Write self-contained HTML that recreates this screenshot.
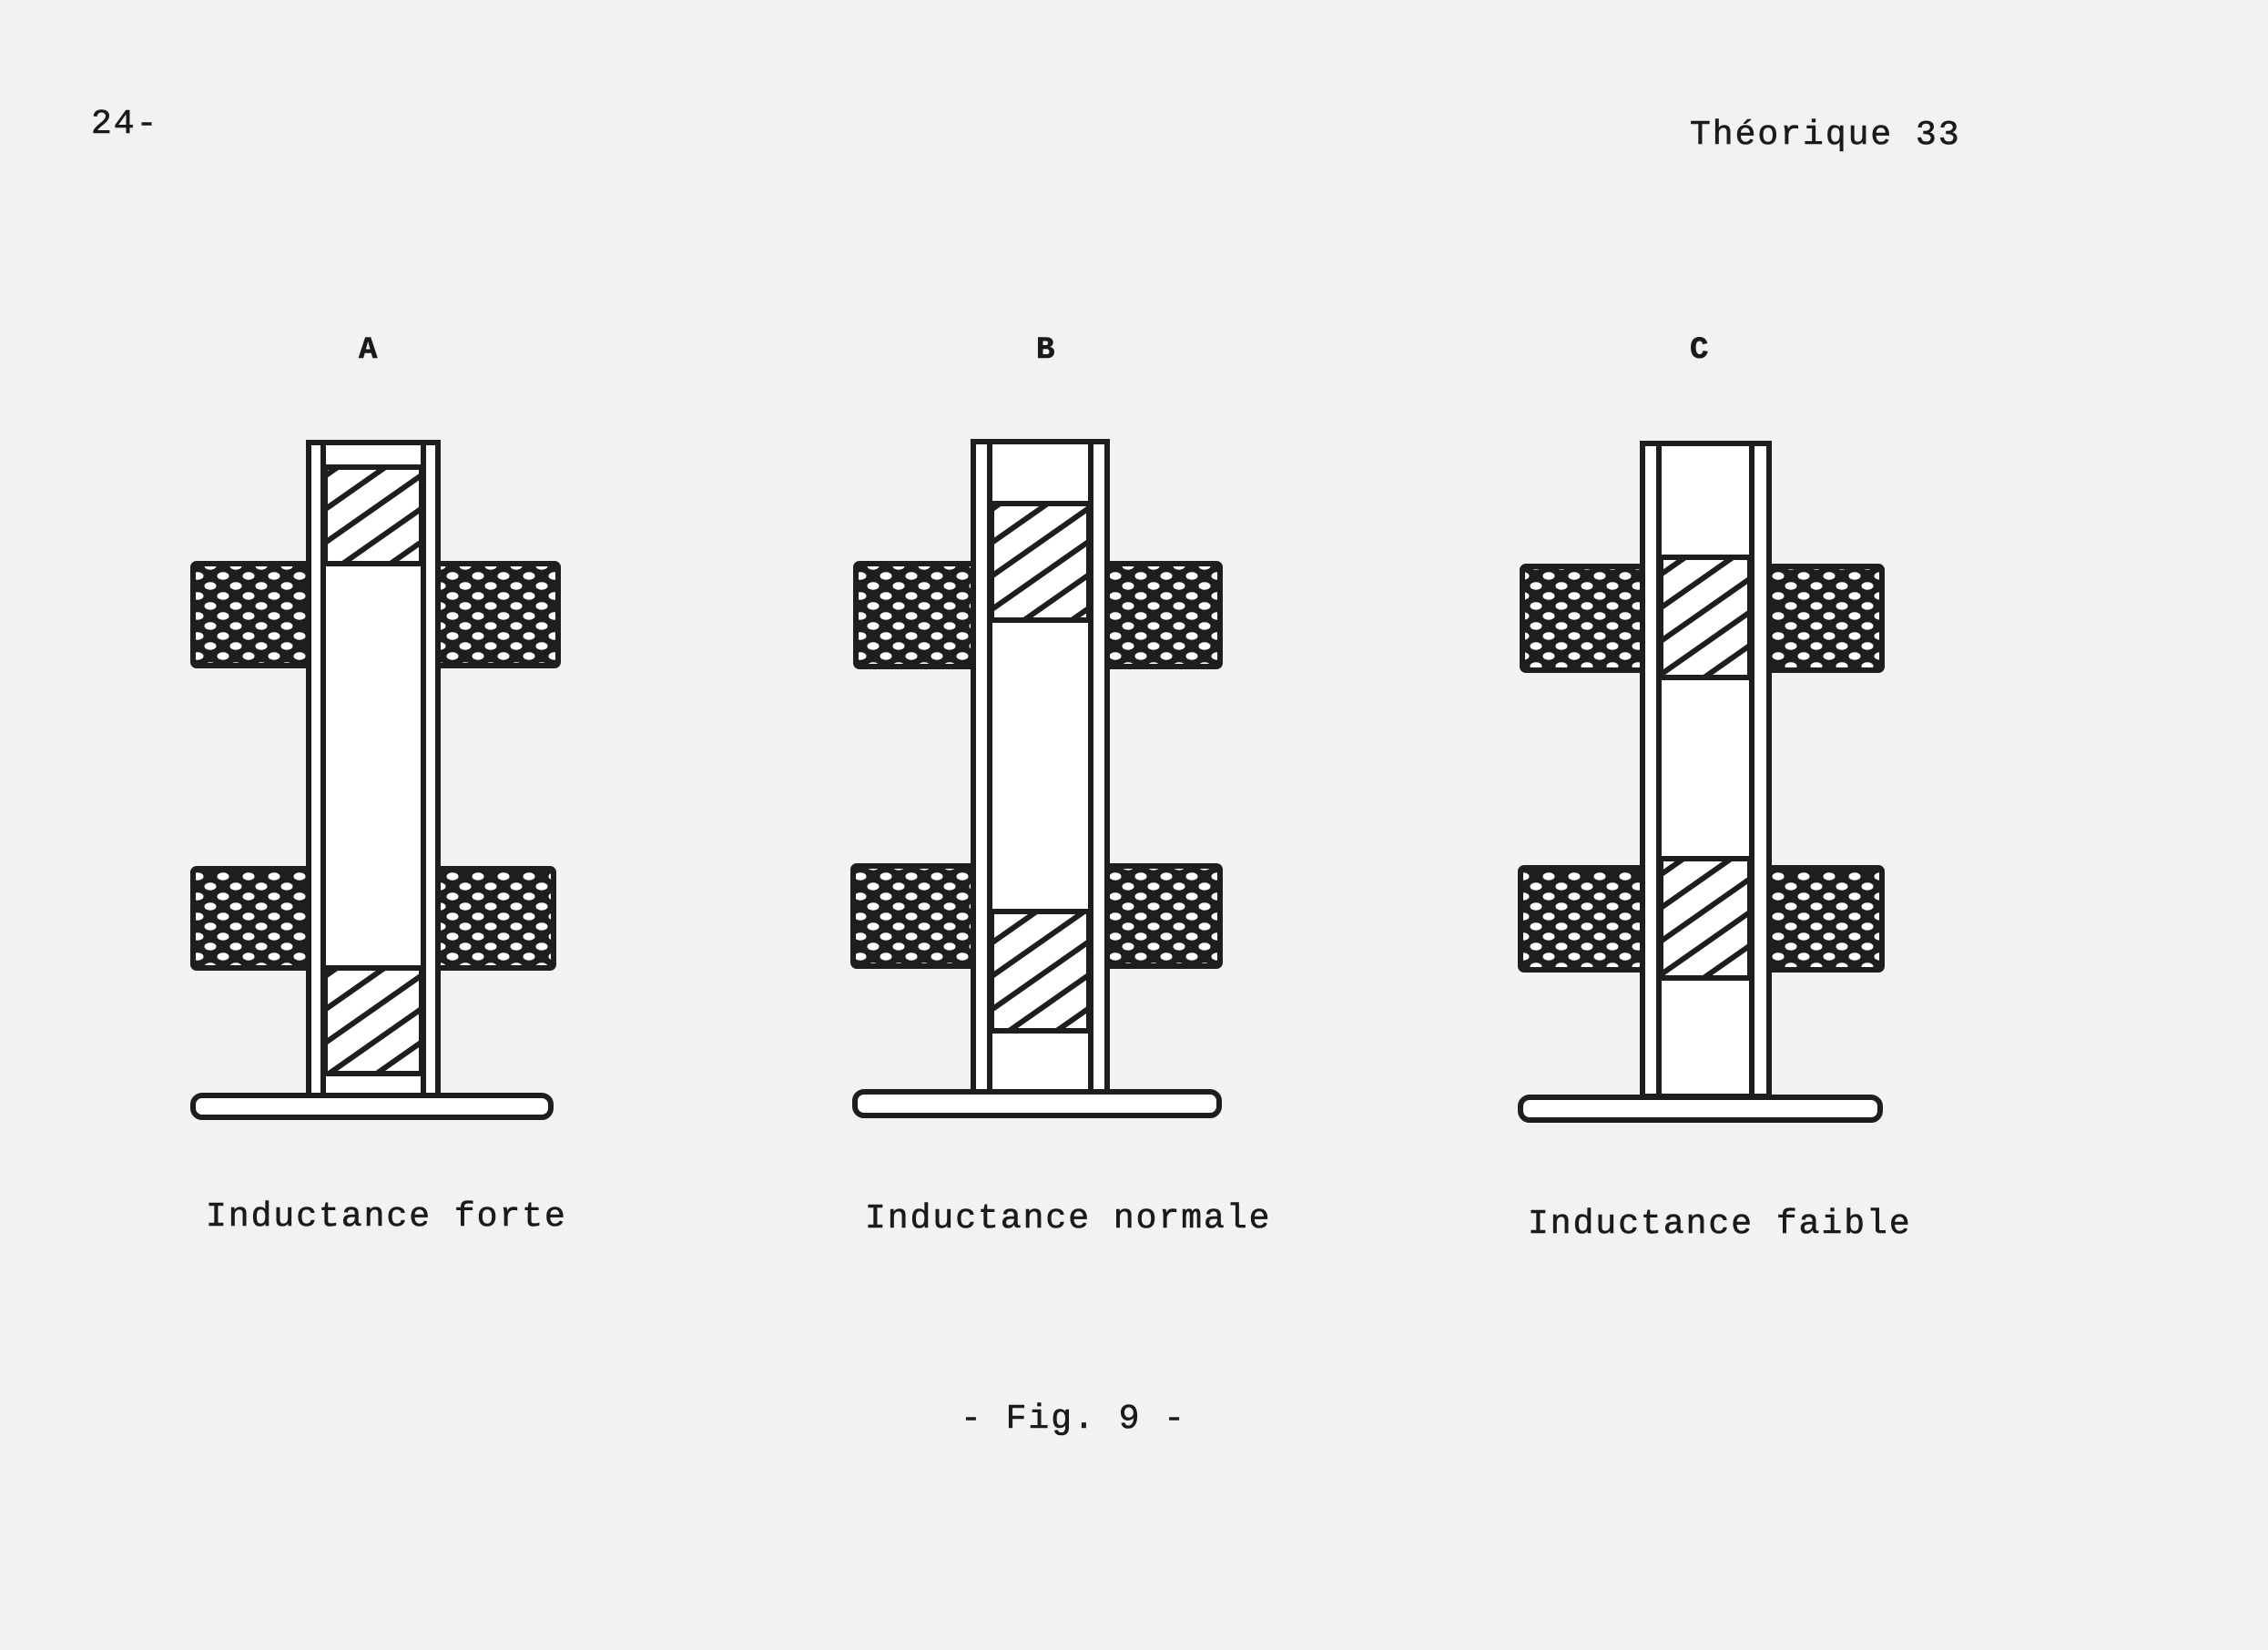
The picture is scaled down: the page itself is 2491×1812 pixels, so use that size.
<!DOCTYPE html>
<html><head><meta charset="utf-8"><style>
html,body{margin:0;padding:0;background:#f2f2f0;}
body{width:2491px;height:1812px;position:relative;overflow:hidden;}
.t{position:absolute;font-family:"Liberation Mono",monospace;font-size:38px;letter-spacing:2px;color:#1a1a1a;white-space:nowrap;line-height:1;-webkit-text-stroke:0.6px #1a1a1a;}
</style></head><body>
<svg width="2491" height="1812" style="position:absolute;left:0;top:0">
<defs>
<pattern id="dots" width="28" height="22" patternUnits="userSpaceOnUse">
<rect width="28" height="22" fill="#1e1e1e"/>
<ellipse cx="7" cy="5.5" rx="6.5" ry="4.2" fill="#fff"/>
<ellipse cx="21" cy="16.5" rx="6.5" ry="4.2" fill="#fff"/>
</pattern>
<pattern id="hatch" width="30" height="30" patternUnits="userSpaceOnUse" patternTransform="rotate(-35)">
<rect width="30" height="30" fill="#fff"/>
<rect y="0" width="30" height="6" fill="#1e1e1e"/>
</pattern>
</defs>
<g stroke="#1e1e1e" stroke-width="6">
<!-- A -->
<rect x="212" y="619" width="128" height="112" rx="4" fill="url(#dots)"/>
<rect x="480" y="619" width="133" height="112" rx="4" fill="url(#dots)"/>
<rect x="212" y="954" width="128" height="109" rx="4" fill="url(#dots)"/>
<rect x="480" y="954" width="128" height="109" rx="4" fill="url(#dots)"/>
<rect x="339" y="486" width="142" height="720" fill="#fff"/>
<line x1="355" y1="486" x2="355" y2="1204"/><line x1="465" y1="486" x2="465" y2="1204"/>
<rect x="357" y="513" width="106" height="106" fill="url(#hatch)"/>
<rect x="357" y="1063" width="106" height="116" fill="url(#hatch)"/>
<rect x="212" y="1203" width="393" height="24" rx="10" fill="#fff"/>
<!-- B -->
<rect x="940" y="619" width="130" height="113" rx="4" fill="url(#dots)"/>
<rect x="1215" y="619" width="125" height="113" rx="4" fill="url(#dots)"/>
<rect x="937" y="951" width="133" height="110" rx="4" fill="url(#dots)"/>
<rect x="1215" y="951" width="125" height="110" rx="4" fill="url(#dots)"/>
<rect x="1069" y="485" width="147" height="715" fill="#fff"/>
<line x1="1087" y1="485" x2="1087" y2="1198"/><line x1="1198" y1="485" x2="1198" y2="1198"/>
<rect x="1089" y="553" width="107" height="128" fill="url(#hatch)"/>
<rect x="1089" y="1001" width="107" height="131" fill="url(#hatch)"/>
<rect x="939" y="1199" width="400" height="26" rx="10" fill="#fff"/>
<!-- C -->
<rect x="1672" y="622" width="132" height="114" rx="4" fill="url(#dots)"/>
<rect x="1943" y="622" width="124" height="114" rx="4" fill="url(#dots)"/>
<rect x="1670" y="953" width="134" height="112" rx="4" fill="url(#dots)"/>
<rect x="1943" y="953" width="124" height="112" rx="4" fill="url(#dots)"/>
<rect x="1804" y="487" width="139" height="717" fill="#fff"/>
<line x1="1822" y1="487" x2="1822" y2="1204"/><line x1="1924" y1="487" x2="1924" y2="1204"/>
<rect x="1824" y="612" width="98" height="132" fill="url(#hatch)"/>
<rect x="1824" y="943" width="98" height="131" fill="url(#hatch)"/>
<rect x="1670" y="1205" width="395" height="25" rx="10" fill="#fff"/>
</g>
</svg>
<div class="t" style="left:100px;top:118px;">24-</div>
<div class="t" style="left:1856px;top:130px;">Théorique 33</div>
<div class="t" style="left:394px;top:368px;font-weight:bold;font-size:34px;">A</div>
<div class="t" style="left:1138px;top:368px;font-weight:bold;font-size:34px;">B</div>
<div class="t" style="left:1856px;top:368px;font-weight:bold;font-size:34px;">C</div>
<div class="t" style="left:226px;top:1318px;">Inductance forte</div>
<div class="t" style="left:950px;top:1320px;">Inductance normale</div>
<div class="t" style="left:1678px;top:1326px;">Inductance faible</div>
<div class="t" style="left:1055px;top:1540px;">- Fig. 9 -</div>
</body></html>
